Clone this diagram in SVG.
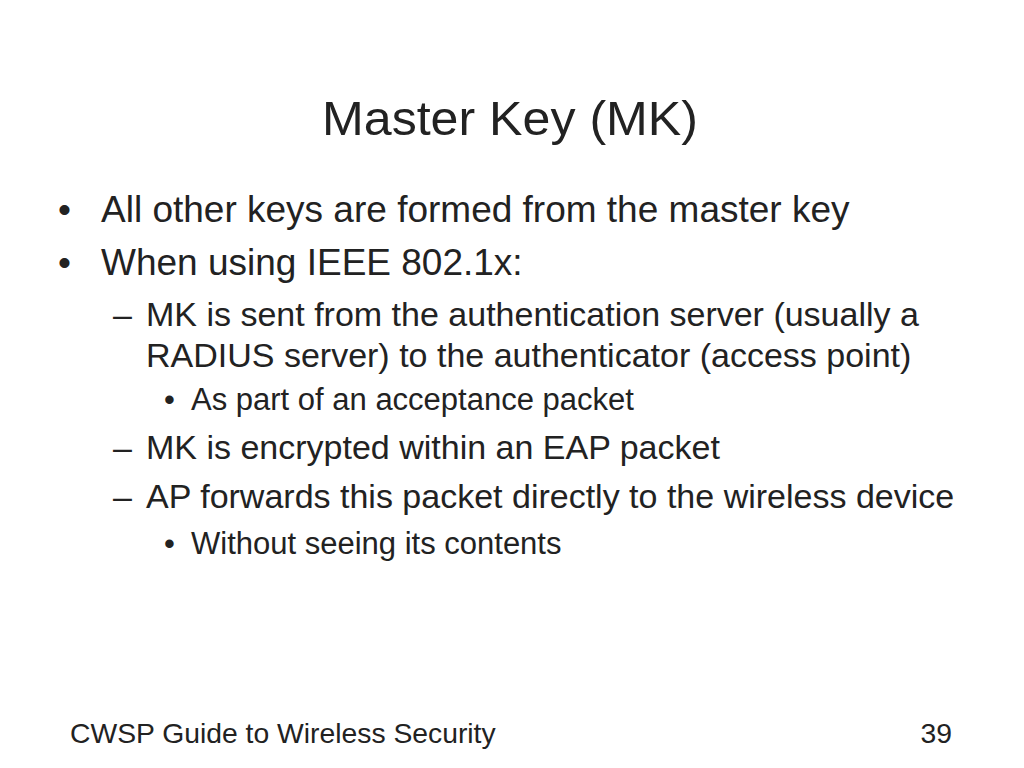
<svg xmlns="http://www.w3.org/2000/svg" width="1024" height="768" viewBox="0 0 1024 768">
<style>
text{font-family:"Liberation Sans",Arial,Helvetica,sans-serif;fill:#222}
.t{font-size:48px}
.l1{font-size:37px}
.l2{font-size:34px}
.l3{font-size:31px}
.f{font-size:28.3px}
</style>
<rect width="1024" height="768" fill="#fff"/>
<text class="t" x="322" y="135" textLength="376" lengthAdjust="spacingAndGlyphs">Master Key (MK)</text>
<g id="bullets">
<text class="l1" x="58" y="222">•</text>
<text class="l1" x="101" y="222">All other keys are formed from the master key</text>
<text class="l1" x="58" y="275">•</text>
<text class="l1" x="101" y="275">When using IEEE 802.1x:</text>
<text class="l2" x="113" y="325.5">–</text>
<text class="l2" x="146" y="325.5">MK is sent from the authentication server (usually a</text>
<text class="l2" x="146" y="366.5">RADIUS server) to the authenticator (access point)</text>
<text class="l3" x="164" y="410">•</text>
<text class="l3" x="191" y="410">As part of an acceptance packet</text>
<text class="l2" x="113" y="459">–</text>
<text class="l2" x="146" y="459">MK is encrypted within an EAP packet</text>
<text class="l2" x="113" y="508">–</text>
<text class="l2" x="146" y="508">AP forwards this packet directly to the wireless device</text>
<text class="l3" x="164" y="554">•</text>
<text class="l3" x="191" y="554">Without seeing its contents</text>
</g>
<text class="f" x="70" y="743">CWSP Guide to Wireless Security</text>
<text class="f" x="952" y="743" text-anchor="end">39</text>
</svg>
